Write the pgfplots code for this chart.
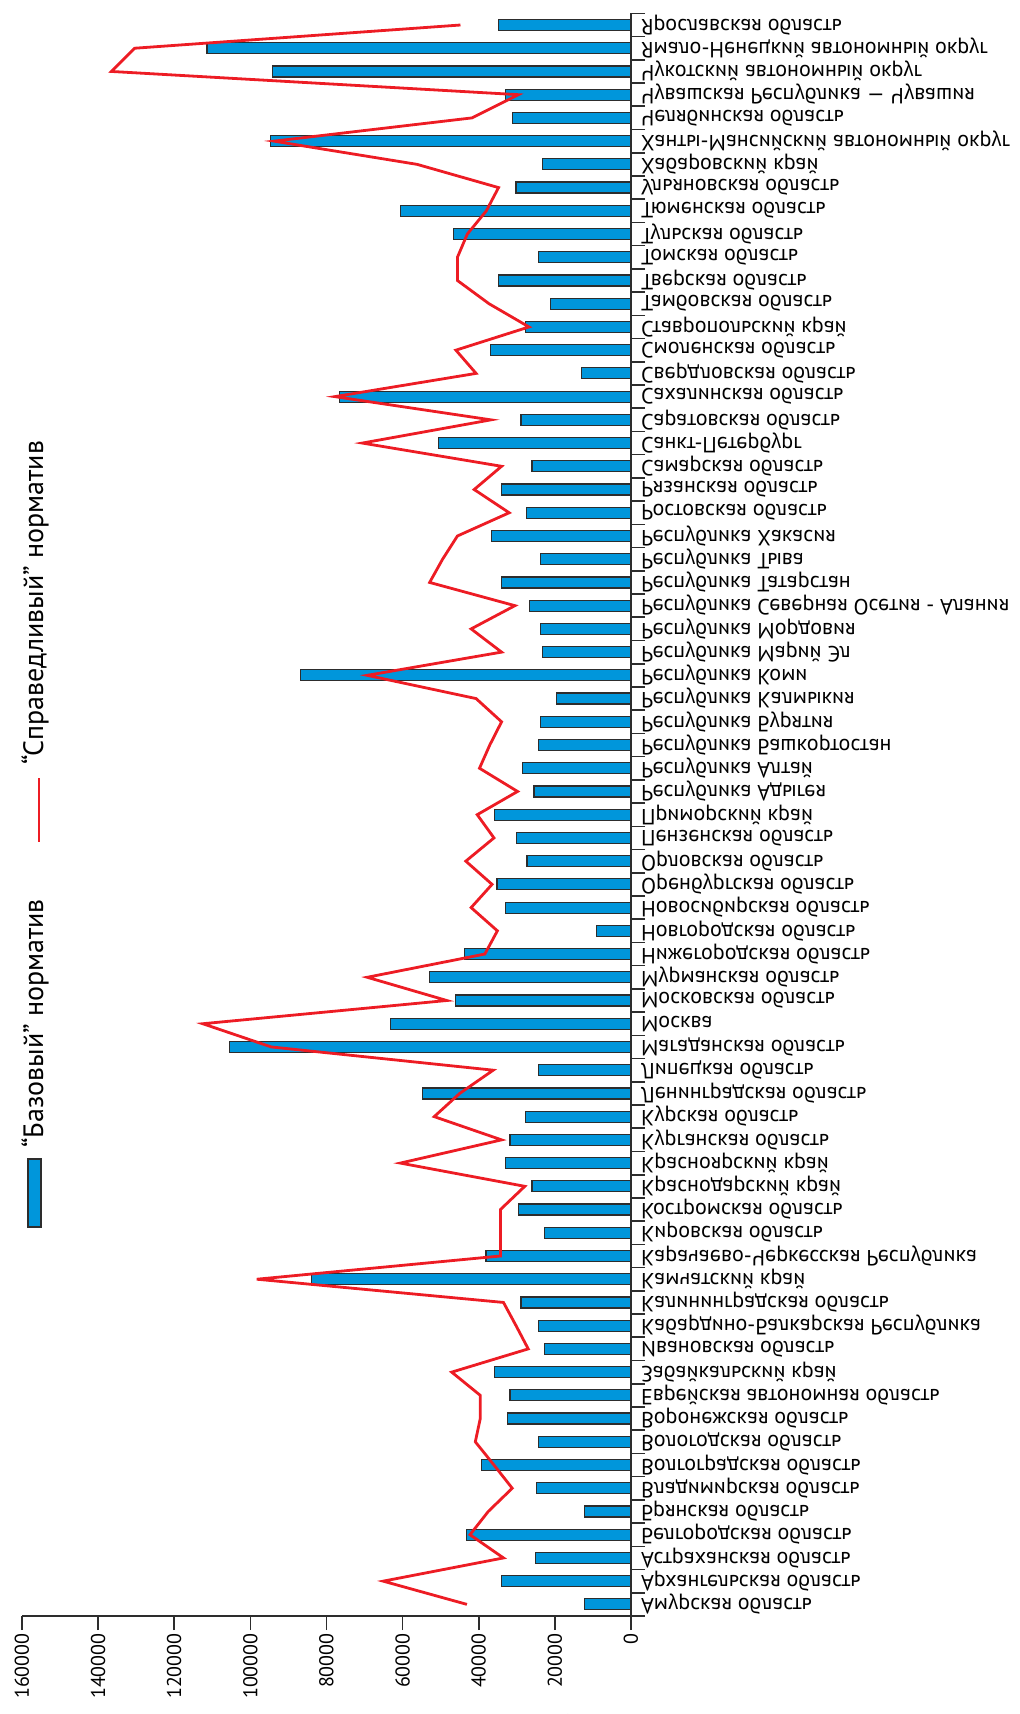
\documentclass[border=0pt]{standalone}
\usepackage{pgfplots}
\pgfplotsset{compat=1.18}
\usepackage{fontspec}
\setmainfont{PT Sans}
\definecolor{barblue}{RGB}{0,150,219}
\definecolor{linered}{RGB}{237,28,36}
\definecolor{axgray}{RGB}{45,45,45}

\begin{document}
\begin{tikzpicture}
\useasboundingbox (-11pt,-49pt) rectangle (498.5pt,808pt);
\begin{axis}[
  scale only axis, width=304.5pt, height=801.3pt,
  xmin=0, xmax=160000, x dir=reverse,
  ymin=0.5, ymax=69.5,
  axis x line*=bottom, axis y line*=right,
  axis line style={axgray, line width=0.8pt},
  tick align=outside,
  major tick length=7pt,
  tick style={axgray, line width=0.8pt},
  xtick={0,20000,40000,60000,80000,100000,120000,140000,160000},
  xticklabels={0,20000,40000,60000,80000,100000,120000,140000,160000},
  xticklabel style={rotate=90, anchor=east, inner sep=1.5pt, font=\fontsize{10}{10}\selectfont},
  ytick={0.5,1.5,...,69.5},
  yticklabels={},
  extra y ticks={1,...,69},
  extra y tick style={major tick length=0pt},
  extra y tick labels={Амурская область,Архангельская область,Астраханская область,Белгородская область,Брянская область,Владимирская область,Волгоградская область,Вологодская область,Воронежская область,Еврейская автономная область,Забайкальский край,Ивановская область,Кабардино-Балкарская Республика,Калининградская область,Камчатский край,Карачаево-Черкесская Республика,Кировская область,Костромская область,Краснодарский край,Красноярский край,Курганская область,Курская область,Ленинградская область,Липецкая область,Магаданская область,Москва,Московская область,Мурманская область,Нижегородская область,Новгородская область,Новосибирская область,Оренбургская область,Орловская область,Пензенская область,Приморский край,Республика Адыгея,Республика Алтай,Республика Башкортостан,Республика Бурятия,Республика Калмыкия,Республика Коми,Республика Марий Эл,Республика Мордовия,Республика Северная Осетия - Алания,Республика Татарстан,Республика Тыва,Республика Хакасия,Ростовская область,Рязанская область,Самарская область,Санкт-Петербург,Саратовская область,Сахалинская область,Свердловская область,Смоленская область,Ставропольский край,Тамбовская область,Тверская область,Томская область,Тульская область,Тюменская область,Ульяновская область,Хабаровский край,Ханты-Мансийский автономный округ,Челябинская область,Чувашская Республика — Чувашия,Чукотский автономный округ,Ямало-Ненецкий автономный округ,Ярославская область},
  yticklabel style={anchor=west, xshift=1.5pt, yscale=-1, font=\fontsize{11}{11}\selectfont},
  clip=false,
]
\addplot[xbar, bar width=5.5pt, fill=barblue, draw=axgray, line width=0.6pt] coordinates {
(12300,1) (34100,2) (25100,3) (43300,4) (12300,5) (24900,6) (39200,7) (24400,8) (32400,9) (31800,10)
(35800,11) (22700,12) (24400,13) (28900,14) (83900,15) (38100,16) (22700,17) (29500,18) (26000,19) (32900,20)
(31800,21) (27800,22) (54700,23) (24400,24) (105500,25) (63200,26) (46100,27) (53000,28) (43800,29) (9000,30)
(33000,31) (35200,32) (27300,33) (30100,34) (35800,35) (25500,36) (28400,37) (24400,38) (23800,39) (19600,40)
(86800,41) (23300,42) (23800,43) (26600,44) (34000,45) (23800,46) (36600,47) (27400,48) (34000,49) (26000,50)
(50600,51) (28900,52) (76600,53) (13000,54) (37000,55) (27800,56) (21100,57) (34800,58) (24400,59) (46600,60)
(60600,61) (30200,62) (23300,63) (94800,64) (31200,65) (33000,66) (94200,67) (111400,68) (34800,69)
};
\addplot[linered, line width=1.4pt] coordinates {
(43100,1) (65100,2) (33500,3) (42300,4) (37500,5) (31200,6) (36000,7) (40900,8) (39600,9) (39600,10)
(47100,11) (27000,12) (30200,13) (33500,14) (98300,15) (34300,16) (34300,17) (34300,18) (27900,19) (60600,20)
(34000,21) (51700,22) (45000,23) (36200,24) (94500,25) (112500,26) (48400,27) (69300,28) (38400,29) (35100,30)
(42000,31) (36500,32) (43400,33) (36000,34) (40400,35) (29800,36) (39800,37) (37100,38) (34000,39) (40700,40)
(69300,41) (34000,42) (42000,43) (30500,44) (52900,45) (49500,46) (45600,47) (32000,48) (41200,49) (34000,50)
(70600,51) (36800,52) (77800,53) (40700,54) (46000,55) (26800,56) (37300,57) (45600,58) (45600,59) (43000,60)
(38000,61) (34800,62) (56200,63) (93800,64) (41800,65) (29600,66) (136500,67) (130400,68) (44800,69)
};
\end{axis}
% legend
\fill[barblue, draw=axgray, line width=0.6pt] (3pt,194.5pt) rectangle (9.5pt,228.5pt);
\node[rotate=90, anchor=west, inner sep=0pt, font=\fontsize{14}{14}\selectfont] at (6.5pt,234pt) {“Базовый” норматив};
\draw[linered, line width=1.4pt] (8.5pt,387pt) -- (8.5pt,419pt);
\node[rotate=90, anchor=west, inner sep=0pt, font=\fontsize{14}{14}\selectfont] at (6.5pt,425.5pt) {“Справедливый” норматив};
\end{tikzpicture}
\end{document}
